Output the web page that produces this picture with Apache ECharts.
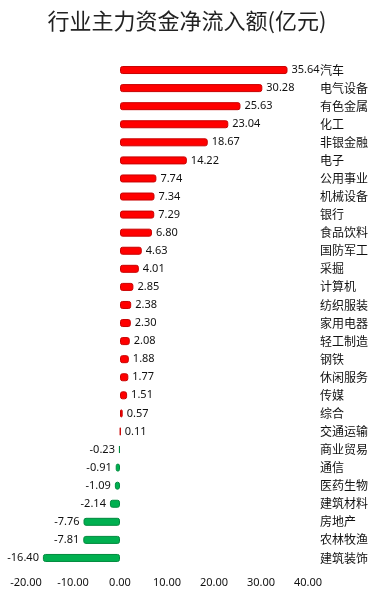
<!DOCTYPE html>
<html>
<head>
<meta charset="utf-8">
<script src="https://cdn.jsdelivr.net/npm/echarts@6/dist/echarts.min.js"></script>
<style>
  html, body { margin: 0; padding: 0; background: #fff; }
  #chart { width: 374px; height: 604px; }
</style>
</head>
<body>
<div id="chart"></div>
<script>
// 行业主力资金净流入额(亿元)
const industries = ['汽车', '电气设备', '有色金属', '化工', '非银金融', '电子', '公用事业', '机械设备', '银行', '食品饮料',
    '国防军工', '采掘', '计算机', '纺织服装', '家用电器', '轻工制造', '钢铁', '休闲服务', '传媒', '综合',
    '交通运输', '商业贸易', '通信', '医药生物', '建筑材料', '房地产', '农林牧渔', '建筑装饰'];
const netInflow = [35.64, 30.28, 25.63, 23.04, 18.67, 14.22, 7.74, 7.34, 7.29, 6.80,
    4.63, 4.01, 2.85, 2.38, 2.30, 2.08, 1.88, 1.77, 1.51, 0.57,
    0.11, -0.23, -0.91, -1.09, -2.14, -7.76, -7.81, -16.40];
const xTicks = [-20, -10, 0, 10, 20, 30, 40];

const chart = echarts.init(document.getElementById('chart'));

chart.setOption({
    animation: false,
    title: {
        text: '行业主力资金净流入额(亿元)',
        left: 'center',
        top: 5,
        textStyle: { fontFamily: 'Noto Sans CJK SC', fontSize: 22, fontWeight: 'normal', color: '#222' }
    },
    grid: { left: 26, right: 66, top: 61, bottom: 37 },
    xAxis: {
        type: 'value',
        min: xTicks[0],
        max: xTicks[xTicks.length - 1],
        interval: 10,
        axisLine: { show: false },
        axisTick: { show: false },
        splitLine: { show: false },
        axisLabel: {
            color: '#111', fontSize: 11, fontFamily: 'Noto Sans', margin: 10,
            formatter: v => v.toFixed(2)
        }
    },
    yAxis: {
        type: 'category',
        data: industries,
        inverse: true,
        position: 'right',
        axisLine: { show: false },
        axisTick: { show: false },
        axisLabel: { color: '#111', fontSize: 12, fontFamily: 'Noto Sans CJK SC', margin: 12, align: 'left' }
    },
    series: [{
        type: 'bar',
        barWidth: 8,
        data: netInflow.map(v => ({
            value: v,
            itemStyle: {
                color: v >= 0 ? '#ff0000' : '#00b050',
                borderColor: v >= 0 ? '#c80000' : '#008a3e',
                borderWidth: 1,
                borderRadius: 2
            },
            label: { position: v >= 0 ? 'right' : 'left' }
        })),
        label: {
            show: true,
            distance: 4,
            color: '#111',
            fontSize: 11,
            fontFamily: 'Noto Sans',
            formatter: p => p.value.toFixed(2)
        }
    }]
});
</script>
</body>
</html>
